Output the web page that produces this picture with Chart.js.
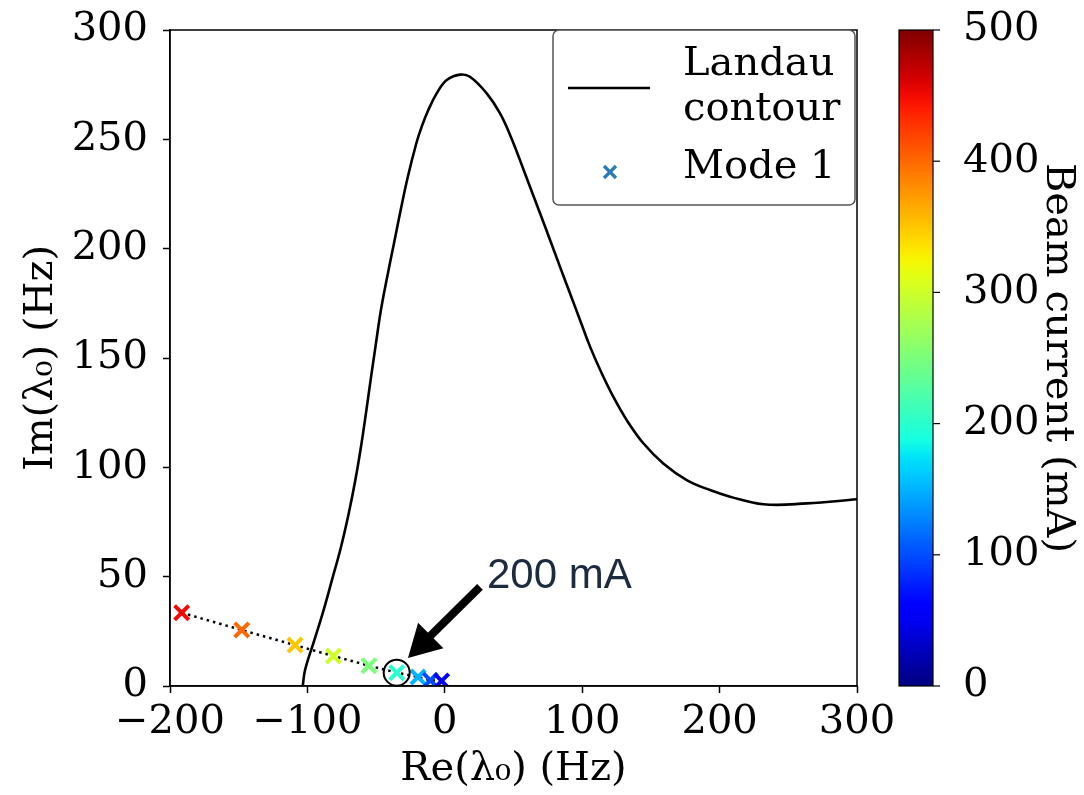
<!DOCTYPE html>
<html>
<head>
<meta charset="utf-8">
<script src="https://cdn.jsdelivr.net/npm/chart.js@4.4.0/dist/chart.umd.min.js"></script>
<style>
  html, body { margin: 0; padding: 0; background: #fff; }
  canvas { display: block; }
</style>
</head>
<body>
<canvas id="chart" width="1084" height="795"></canvas>
<script>
// Landau contour (Re, Im in Hz)
const contourRe = [-103.4, -101.7, -95.7, -88.9, -82.1, -75.5, -69.9, -65.1, -61.0, -57.4, -54.0, -50.5, -46.5, -41.9, -37.0, -32.1, -26.9, -20.7, -16.8, -12.0, -5.9, 1.4, 11.1, 18.3, 30.5, 40.2, 47.5, 54.7, 62.0, 69.3, 76.6, 83.8, 91.1, 98.4, 105.7, 114.2, 122.6, 132.4, 144.5, 159.0, 176.1, 193.0, 207.6, 231.9, 263.4, 300];
const contourIm = [0, 7.3, 19.5, 33.2, 48.5, 63.7, 79.0, 94.2, 109.4, 124.7, 139.9, 155.0, 171.9, 187.2, 202.4, 217.7, 232.9, 248.2, 255.8, 263.4, 271.0, 277.1, 279.6, 278.6, 271.0, 261.9, 252.0, 240.5, 228.3, 216.2, 204.0, 191.8, 179.6, 167.4, 155.2, 143.0, 132.3, 121.6, 111.0, 101.8, 94.2, 89.6, 86.6, 83.1, 83.5, 85.4];

// Mode 1 eigenvalue vs beam current
const beamCurrent = [450, 400, 350, 300, 250, 200, 150, 100, 50];
const modeRe = [-191.5, -147.8, -109.0, -81.1, -55.2, -35.0, -19.5, -10.5, -2.3];
const modeIm = [33.5, 25.6, 18.7, 13.7, 9.3, 6.1, 4.1, 2.6, 2.3];

const currentMax = 500;
const highlightCurrent = 200;
const annotationText = '200 mA';
const arrowTail = { x: 25.6, y: 45.3 };
const arrowTip = { x: -26.8, y: 12.8 };
const labelPos = { x: 30.7, y: 44.8 };

const SERIF = "'DejaVu Serif', serif";

// matplotlib jet
const JET = {
  r: [[0, 0], [0.35, 0], [0.66, 1], [0.89, 1], [1, 0.5]],
  g: [[0, 0], [0.125, 0], [0.375, 1], [0.64, 1], [0.91, 0], [1, 0]],
  b: [[0, 0.5], [0.11, 1], [0.34, 1], [0.65, 0], [1, 0]]
};
function seg(pts, t) {
  for (let i = 1; i < pts.length; i++) {
    if (t <= pts[i][0]) {
      const [x0, y0] = pts[i - 1], [x1, y1] = pts[i];
      return y0 + (y1 - y0) * (t - x0) / (x1 - x0);
    }
  }
  return pts[pts.length - 1][1];
}
function jet(t) {
  t = Math.min(1, Math.max(0, t));
  const c = k => Math.round(255 * seg(JET[k], t));
  return `rgb(${c('r')},${c('g')},${c('b')})`;
}

const minus = v => String(v).replace('-', '\u2212');

const colorbar = {
  id: 'colorbar',
  afterDraw(chart) {
    const { ctx } = chart;
    const cb = chart.scales.cb;
    const x0 = cb.left + 42, w = 34;
    const top = cb.getPixelForValue(currentMax), bot = cb.getPixelForValue(0);
    const grad = ctx.createLinearGradient(0, bot, 0, top);
    for (let i = 0; i <= 40; i++) grad.addColorStop(i / 40, jet(i / 40));
    ctx.save();
    ctx.fillStyle = grad;
    ctx.fillRect(x0, top, w, bot - top);
    ctx.strokeStyle = '#000';
    ctx.lineWidth = 1.2;
    ctx.strokeRect(x0, top, w, bot - top);
    cb.ticks.forEach(t => {
      const y = cb.getPixelForValue(t.value);
      ctx.beginPath();
      ctx.moveTo(x0 + w, y);
      ctx.lineTo(x0 + w + 7, y);
      ctx.stroke();
    });
    ctx.restore();
  }
};

const frame = {
  id: 'frame',
  afterDatasetsDraw(chart) {
    const { ctx, chartArea: a } = chart;
    ctx.save();
    ctx.strokeStyle = '#000';
    ctx.lineWidth = 1.5;
    ctx.strokeRect(a.left, a.top, a.right - a.left, a.bottom - a.top);
    ctx.restore();
  }
};

const annotate = {
  id: 'annotate',
  afterDatasetsDraw(chart) {
    const { ctx, scales: { x, y } } = chart;
    ctx.save();
    // circle round the highlighted point
    const i = beamCurrent.indexOf(highlightCurrent);
    ctx.strokeStyle = '#000';
    ctx.lineWidth = 2;
    ctx.beginPath();
    ctx.arc(x.getPixelForValue(modeRe[i]), y.getPixelForValue(modeIm[i]), 13, 0, Math.PI * 2);
    ctx.stroke();
    // arrow
    const tx = x.getPixelForValue(arrowTail.x), ty = y.getPixelForValue(arrowTail.y);
    const hx = x.getPixelForValue(arrowTip.x), hy = y.getPixelForValue(arrowTip.y);
    const ang = Math.atan2(hy - ty, hx - tx);
    const headLen = 32, headHalf = 18;
    const bx = hx - headLen * Math.cos(ang), by = hy - headLen * Math.sin(ang);
    ctx.lineWidth = 8;
    ctx.beginPath();
    ctx.moveTo(tx, ty);
    ctx.lineTo(bx + 2 * Math.cos(ang), by + 2 * Math.sin(ang));
    ctx.stroke();
    ctx.fillStyle = '#000';
    ctx.beginPath();
    ctx.moveTo(hx, hy);
    ctx.lineTo(bx - headHalf * Math.sin(ang), by + headHalf * Math.cos(ang));
    ctx.lineTo(bx + headHalf * Math.sin(ang), by - headHalf * Math.cos(ang));
    ctx.closePath();
    ctx.fill();
    // label
    ctx.fillStyle = '#1c2b3e';
    ctx.font = "42px 'Liberation Sans', sans-serif";
    ctx.textBaseline = 'alphabetic';
    ctx.textAlign = 'left';
    ctx.fillText(annotationText, x.getPixelForValue(labelPos.x), y.getPixelForValue(labelPos.y));
    ctx.restore();
  }
};

const legendBox = {
  id: 'legendBox',
  afterDatasetsDraw(chart) {
    const { ctx, chartArea: a } = chart;
    const L = a.right - 304, T = a.top, W = 302, H = 175;
    ctx.save();
    ctx.fillStyle = 'rgba(255,255,255,0.85)';
    ctx.strokeStyle = '#555';
    ctx.lineWidth = 1.5;
    ctx.beginPath();
    ctx.roundRect(L, T, W, H, 6);
    ctx.fill();
    ctx.stroke();
    // line sample
    ctx.strokeStyle = '#000';
    ctx.lineWidth = 2.6;
    ctx.beginPath();
    ctx.moveTo(L + 15, T + 58);
    ctx.lineTo(L + 97, T + 58);
    ctx.stroke();
    // marker sample
    const mx = L + 57, my = T + 142, r = 6;
    ctx.strokeStyle = '#2a7ab9';
    ctx.lineWidth = 3.2;
    ctx.beginPath();
    ctx.moveTo(mx - r, my - r); ctx.lineTo(mx + r, my + r);
    ctx.moveTo(mx - r, my + r); ctx.lineTo(mx + r, my - r);
    ctx.stroke();
    ctx.fillStyle = '#000';
    ctx.font = '40px ' + SERIF;
    ctx.textBaseline = 'alphabetic';
    ctx.fillText('Landau', L + 130, T + 45);
    ctx.fillText('contour', L + 130, T + 90);
    ctx.fillText('Mode 1', L + 130, T + 148);
    ctx.restore();
  }
};

const tickFont = { family: SERIF, size: 40 };

// vertical axes: fixed width, no extra overflow padding
const fixWidth = w => s => { s.width = w; s.paddingTop = 0; s.paddingBottom = 0; };

new Chart(document.getElementById('chart'), {
  type: 'scatter',
  data: {
    datasets: [
      {
        label: 'Landau contour',
        data: contourRe.map((v, i) => ({ x: v, y: contourIm[i] })),
        showLine: true,
        borderColor: '#000',
        borderWidth: 2.6,
        pointRadius: 0,
        tension: 0.4,
        order: 3
      },
      {
        label: 'path',
        data: modeRe.map((v, i) => ({ x: v, y: modeIm[i] })),
        showLine: true,
        borderColor: '#000',
        borderWidth: 2.5,
        borderDash: [2.5, 4],
        pointRadius: 0,
        order: 2
      },
      {
        label: 'Mode 1',
        data: modeRe.map((v, i) => ({ x: v, y: modeIm[i] })),
        showLine: false,
        pointStyle: 'crossRot',
        pointRadius: 10,
        pointBorderWidth: 4,
        pointBorderColor: beamCurrent.map(c => jet(c / currentMax)),
        pointBackgroundColor: beamCurrent.map(c => jet(c / currentMax)),
        order: 1
      }
    ]
  },
  options: {
    responsive: false,
    animation: false,
    devicePixelRatio: 1,
    layout: { padding: { top: 30, left: 0, right: 0, bottom: 0 } },
    plugins: { legend: { display: false }, tooltip: { enabled: false } },
    scales: {
      x: {
        type: 'linear', position: 'bottom', min: -200, max: 300,
        afterFit: s => { s.height = 109; },
        ticks: { stepSize: 100, color: '#000', font: tickFont, padding: 6, maxRotation: 0, callback: v => minus(v) },
        grid: { drawOnChartArea: false, tickLength: 7, color: '#000', tickWidth: 1.5 },
        border: { display: true, color: '#000', width: 1.5 },
        title: { display: true, text: 'Re(λ₀) (Hz)', color: '#000', font: tickFont, padding: { top: 0, bottom: 1 } }
      },
      y: {
        type: 'linear', position: 'left', min: 0, max: 300,
        afterFit: fixWidth(170),
        ticks: { stepSize: 50, color: '#000', font: tickFont, padding: 15 },
        grid: { drawOnChartArea: false, tickLength: 7, color: '#000', tickWidth: 1.5 },
        border: { display: true, color: '#000', width: 1.5 },
        title: { display: true, text: 'Im(λ₀) (Hz)', color: '#000', font: tickFont, padding: { top: 18, bottom: 0 } }
      },
      cb: {
        type: 'linear', position: 'right', min: 0, max: currentMax,
        afterFit: fixWidth(227),
        ticks: { stepSize: 100, color: '#000', font: tickFont, padding: 98 },
        grid: { display: false },
        border: { display: false },
        title: { display: true, text: 'Beam current (mA)', color: '#000', font: tickFont, padding: { top: 3, bottom: 0 } }
      }
    }
  },
  plugins: [frame, annotate, legendBox, colorbar]
});
</script>
</body>
</html>
